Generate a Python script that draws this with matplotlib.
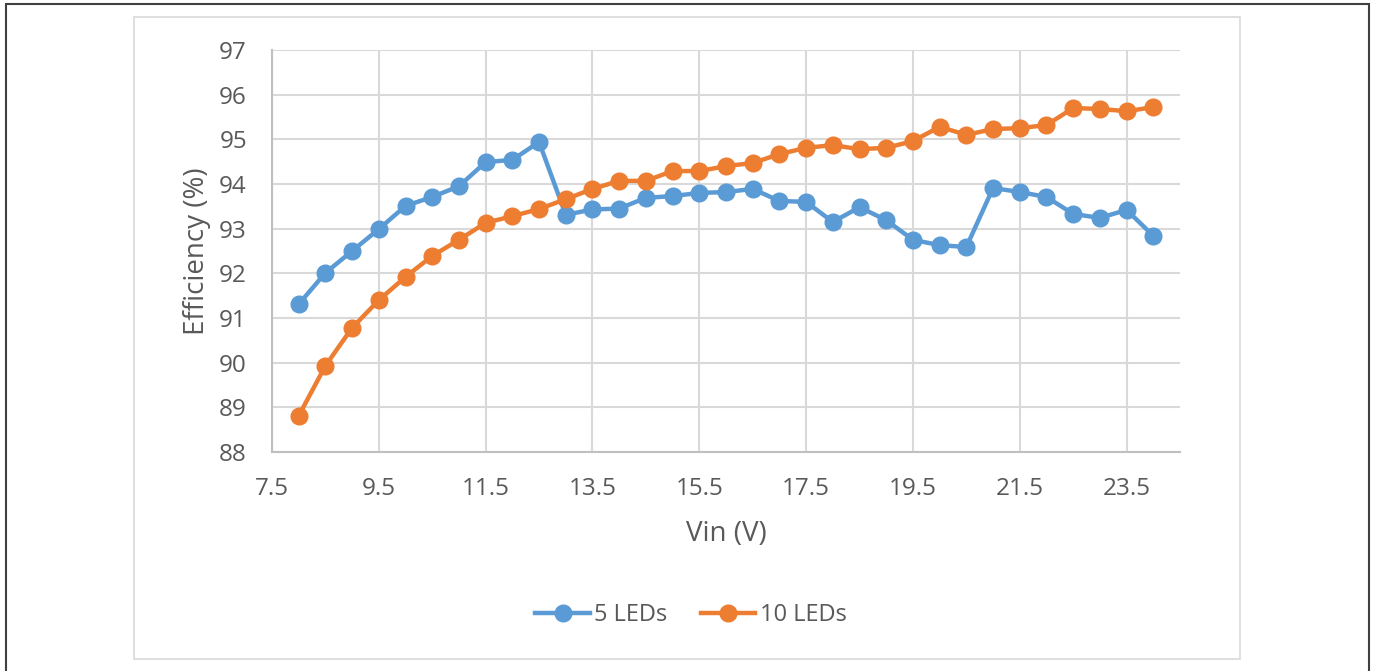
import matplotlib.pyplot as plt
from matplotlib.patches import Rectangle

# Tensao de entrada (V)
vin = [8, 8.5, 9, 9.5, 10, 10.5, 11, 11.5, 12, 12.5, 13, 13.5, 14, 14.5, 15, 15.5,
       16, 16.5, 17, 17.5, 18, 18.5, 19, 19.5, 20, 20.5, 21, 21.5, 22, 22.5, 23, 23.5, 24]

# Eficiencia (%)
eff_5leds = [91.31, 92.01, 92.50, 92.99, 93.51, 93.71, 93.95, 94.49, 94.54, 94.94,
             93.31, 93.43, 93.45, 93.69, 93.73, 93.80, 93.82, 93.89, 93.62, 93.60,
             93.15, 93.48, 93.19, 92.75, 92.63, 92.59, 93.91, 93.82, 93.71, 93.33,
             93.24, 93.42, 92.84]
eff_10leds = [88.81, 89.93, 90.78, 91.40, 91.92, 92.39, 92.75, 93.13, 93.28, 93.44,
              93.66, 93.89, 94.07, 94.07, 94.29, 94.29, 94.40, 94.47, 94.67, 94.81,
              94.87, 94.78, 94.81, 94.96, 95.28, 95.10, 95.23, 95.25, 95.32, 95.70,
              95.68, 95.63, 95.72]

x_ticks = [7.5, 9.5, 11.5, 13.5, 15.5, 17.5, 19.5, 21.5, 23.5]
y_ticks = list(range(88, 98))

plt.rcParams['font.family'] = ['Open Sans', 'DejaVu Sans']
text_color = '#595959'
grid_color = '#D9D9D9'

fig = plt.figure(figsize=(13.73, 6.71), dpi=100)

# moldura externa e caixa do grafico
fig.patches.append(Rectangle((6 / 1373, -0.01), 1363 / 1373, 1 - 4 / 671 + 0.01,
                             transform=fig.transFigure, fill=False,
                             edgecolor='#404040', linewidth=1.5))
fig.patches.append(Rectangle((134 / 1373, 1 - 659 / 671), 1106 / 1373, 642 / 671,
                             transform=fig.transFigure, fill=False,
                             edgecolor='#D9D9D9', linewidth=1.2))

ax = fig.add_axes([272 / 1373, 1 - 452 / 671, 908 / 1373, 402 / 671])

ax.plot(vin, eff_5leds, color='#5B9BD5', linewidth=3.2, marker='o',
        markersize=12, label='5 LEDs', zorder=3)
ax.plot(vin, eff_10leds, color='#ED7D31', linewidth=3.2, marker='o',
        markersize=12, label='10 LEDs', zorder=3)

ax.set_xlim(7.5, 24.5)
ax.set_ylim(88, 97)
ax.set_xticks(x_ticks)
ax.set_xticklabels([f"{t:.1f}" for t in x_ticks])
ax.set_yticks(y_ticks)
ax.grid(True, color=grid_color, linewidth=1.5)
ax.set_axisbelow(True)

for side in ['top', 'right']:
    ax.spines[side].set_visible(False)
for side in ['left', 'bottom']:
    ax.spines[side].set_color('#BFBFBF')
    ax.spines[side].set_linewidth(1.5)

ax.tick_params(length=0, labelsize=17.5, colors=text_color, pad=18)
ax.set_xlabel("Vin (V)", fontsize=20, color=text_color, labelpad=14)
ax.set_ylabel("Efficiency (%)", fontsize=20, color=text_color, labelpad=6)

ax.legend(loc='center', bbox_to_anchor=(691 / 1373, 1 - 615 / 671),
          bbox_transform=fig.transFigure, ncol=2, frameon=False,
          fontsize=17, labelcolor=text_color, handlelength=2.3,
          columnspacing=1.4, handletextpad=0.2)

fig.savefig('out.png', dpi=100)
